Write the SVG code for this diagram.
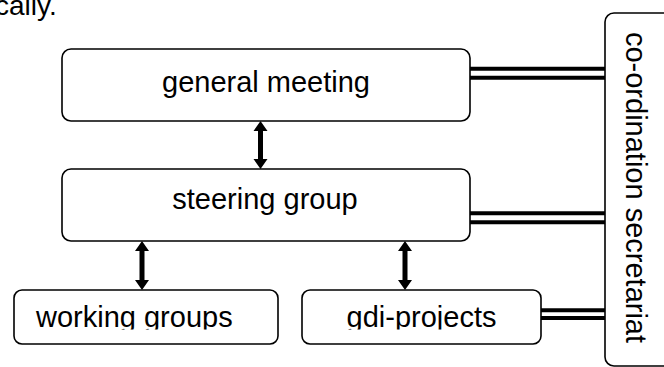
<svg xmlns="http://www.w3.org/2000/svg" width="664" height="367" viewBox="0 0 664 367">
<style>
.box{fill:#fff;stroke:#000;stroke-width:1.6}
.lbl{font-family:"Liberation Sans",Arial,sans-serif;font-size:29px;fill:#000}
.dbl{stroke:#000;stroke-width:4;fill:none}
.arr{fill:#000;stroke:none}
</style>
<defs>
<clipPath id="clipBottom"><rect x="0" y="280" width="664" height="49.5"/></clipPath>
</defs>
<rect width="664" height="367" fill="#fff"/>
<text class="lbl" x="-5" y="15" style="font-size:28px">cally.</text>
<g id="connectors">
<path class="arr" d="M260.5,121 L267.5,131 L263,131 L263,159 L267.5,159 L260.5,169 L253.5,159 L258,159 L258,131 L253.5,131 Z"/>
<path class="arr" d="M142,241 L149,251 L144.5,251 L144.5,280 L149,280 L142,290 L135,280 L139.5,280 L139.5,251 L135,251 Z"/>
<path class="arr" d="M405,241 L412,251 L407.5,251 L407.5,280 L412,280 L405,290 L398,280 L402.5,280 L402.5,251 L398,251 Z"/>
<line class="dbl" x1="470" y1="68.7" x2="605" y2="68.7"/>
<line class="dbl" x1="470" y1="77.7" x2="605" y2="77.7"/>
<line class="dbl" x1="470" y1="213.3" x2="605" y2="213.3"/>
<line class="dbl" x1="470" y1="222.3" x2="605" y2="222.3"/>
<line class="dbl" x1="541" y1="310.3" x2="605" y2="310.3"/>
<line class="dbl" x1="541" y1="318" x2="605" y2="318"/>
</g>
<g id="general-meeting">
<rect class="box" x="62" y="49" width="408" height="72" rx="9"/>
<text class="lbl" x="266" y="92" text-anchor="middle">general meeting</text>
</g>
<g id="steering-group">
<rect class="box" x="62" y="169" width="408" height="72" rx="9"/>
<text class="lbl" x="265" y="209" text-anchor="middle">steering group</text>
</g>
<g id="working-groups">
<rect class="box" x="14" y="290" width="264" height="54" rx="8"/>
<text class="lbl" x="36" y="327" clip-path="url(#clipBottom)">working groups</text>
</g>
<g id="gdi-projects">
<rect class="box" x="302" y="290" width="239" height="54" rx="8"/>
<text class="lbl" x="421.5" y="327" text-anchor="middle" clip-path="url(#clipBottom)">gdi-projects</text>
</g>
<g id="co-ordination-secretariat">
<rect class="box" x="605" y="13" width="90" height="353" rx="9"/>
<text class="lbl" transform="translate(626,187.5) rotate(90)" text-anchor="middle">co-ordination secretariat</text>
</g>
</svg>
